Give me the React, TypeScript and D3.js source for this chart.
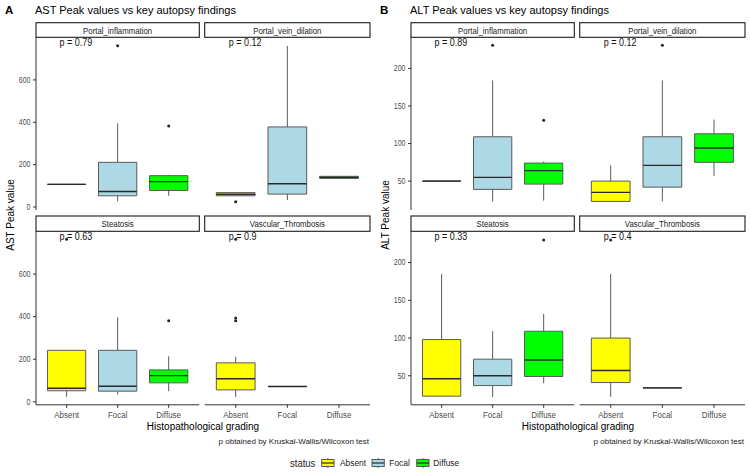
import React from "react";
import * as d3 from "d3";

type Stat = [number, number, number, number, number] | null; // lower whisker, q1, median, q3, upper whisker

const grades = ["Absent", "Focal", "Diffuse"];
const gradeColors = ["#FFFF00", "#ADD8E6", "#00FF00"];
const findings = ["Portal_inflammation", "Portal_vein_dilation", "Steatosis", "Vascular_Thrombosis"];

const astPValues = ["0.79", "0.12", "0.63", "0.9"];
const altPValues = ["0.89", "0.12", "0.33", "0.4"];

const astTicks = [0, 200, 400, 600];
const altTicks = [50, 100, 150, 200];

// AST box stats per finding, per grade
const astPortalInflammation: Stat[] = [[107, 107, 107, 107, 107], [27, 53, 73, 211, 395], [53, 78, 120, 148, 152]];
const astPortalVein: Stat[] = [[53, 53, 60, 68, 68], [33, 61, 110, 378, 760], [135, 135, 140, 145, 145]];
const astSteatosis: Stat[] = [[23, 52, 64, 242, 242], [34, 50, 73, 242, 397], [50, 89, 123, 150, 214]];
const astVascular: Stat[] = [[23, 56, 108, 183, 212], [72, 72, 72, 72, 72], null];

const astOutPortalInflammation = [[], [761], [382]];
const astOutPortalVein = [[25], [], []];
const astOutSteatosis = [[764], [], [381]];
const astOutVascular = [[381, 394, 764], [], []];

// ALT box stats per finding, per grade
const altPortalInflammation: Stat[] = [[50, 50, 50, 50, 50], [23, 39, 55, 109, 184], [24, 46, 64, 74, 76]];
const altPortalVein: Stat[] = [[23, 23, 35, 50, 71], [23, 42, 71, 109, 184], [57, 75, 94, 113, 132]];
const altSteatosis: Stat[] = [[23, 23, 46, 98, 185], [22, 37, 50, 72, 109], [40, 49, 71, 109, 132]];
const altVascular: Stat[] = [[22, 41, 57, 100, 185], [34, 34, 34, 34, 34], null];

const altOutPortalInflammation = [[], [231], [131]];
const altOutPortalVein = [[], [231], []];
const altOutSteatosis = [[], [], [230]];
const altOutVascular = [[230], [], []];

const FONT = '"Liberation Sans", Arial, Helvetica, sans-serif';

const colsX = [[36, 199.3], [204.7, 370]];
const stripY = [[22.7, 37.3], [216, 231.3]];
const panelY = [[37.3, 210], [231.3, 404.8]];

function CText(props: { x: number; y: number; sx?: number; size: number; anchor?: string; fill?: string; children: any; weight?: string }) {
  const { x, y, sx = 1, size, anchor = "start", fill = "#000", children, weight } = props;
  return (
    <text
      transform={`translate(${x},${y}) scale(${sx},1)`}
      textAnchor={anchor}
      dominantBaseline="central"
      fontSize={size}
      fill={fill}
      fontFamily={FONT}
      fontWeight={weight}
    >
      {children}
    </text>
  );
}

function Chart(props: {
  ox: number;
  letter: string;
  title: string;
  yTitle: string;
  stats: Stat[][];
  outliers: number[][][];
  pvals: string[];
  ticks: number[];
}) {
  const { ox, letter, title, yTitle, stats, outliers, pvals, ticks } = props;
  const all: number[] = [];
  stats.forEach((s) => s.forEach((b) => b && all.push(...b)));
  outliers.forEach((o) => o.forEach((g) => all.push(...g)));
  const lo0 = d3.min(all) as number;
  const hi0 = d3.max(all) as number;
  const pad = (hi0 - lo0) * 0.05;
  const domain = [lo0 - pad, hi0 + pad];
  const outline = "#5a5a5a";
  const medianC = "#2a2a2a";

  return (
    <g>
      <CText x={ox + 5} y={10} size={11.5} weight="bold">{letter}</CText>
      <CText x={ox + 35} y={10} size={11}>{title}</CText>
      <text
        transform={`translate(${ox + 10},${215}) rotate(-90)`}
        textAnchor="middle"
        dominantBaseline="central"
        fontSize={10}
        fontFamily={FONT}
      >
        {yTitle}
      </text>
      <CText x={ox + 203} y={426} size={10} anchor="middle">Histopathological grading</CText>
      <CText x={ox + 369} y={441} size={8} anchor="end" fill="#222">p obtained by Kruskal-Wallis/Wilcoxon test</CText>
      {findings.map((f, i) => {
        const col = i % 2;
        const row = Math.floor(i / 2);
        const [x0r, x1r] = colsX[col];
        const x0 = ox + x0r;
        const x1 = ox + x1r;
        const [st, sb] = stripY[row];
        const [pt, pb] = panelY[row];
        const y = d3.scaleLinear().domain(domain).range([pb, pt]);
        const x = d3.scalePoint<string>().domain(grades).range([x0, x1]).padding(0.6);
        const bw = x.step() * 0.75;
        return (
          <g key={f}>
            <rect x={x0} y={st} width={x1 - x0} height={sb - st} fill="#fff" stroke="#1a1a1a" strokeWidth={1.1} />
            <CText x={(x0 + x1) / 2} y={(st + sb) / 2 + 0.3} size={9} sx={0.87} anchor="middle" fill="#1a1a1a">{f}</CText>
            {grades.map((g, gi) => {
              const s = stats[i][gi];
              const cx = x(g) as number;
              const outs = outliers[i][gi];
              return (
                <g key={g}>
                  {s && (
                    <g>
                      <line x1={cx} x2={cx} y1={y(s[0])} y2={y(s[1])} stroke={outline} strokeWidth={1} />
                      <line x1={cx} x2={cx} y1={y(s[3])} y2={y(s[4])} stroke={outline} strokeWidth={1} />
                      <path
                        d={`M${cx - bw / 2},${y(s[3])}H${cx + bw / 2}V${y(s[1])}H${cx - bw / 2}Z`}
                        fill={gradeColors[gi]}
                        stroke={outline}
                        strokeWidth={1}
                      />
                      <line x1={cx - bw / 2} x2={cx + bw / 2} y1={y(s[2])} y2={y(s[2])} stroke={medianC} strokeWidth={1.4} />
                    </g>
                  )}
                  {outs.map((v, k) => (
                    <circle key={k} cx={cx} cy={y(v)} r={1.5} fill="#222" />
                  ))}
                </g>
              );
            })}
            <CText x={(x(grades[0]) as number) - 7} y={pt + 5} size={10} sx={0.9} fill="#111">{`p = ${pvals[i]}`}</CText>
            {col === 0 && (
              <g>
                <line x1={x0} x2={x0} y1={pt} y2={pb} stroke="#333" strokeWidth={1} />
                {ticks.map((t) => (
                  <g key={t}>
                    <line x1={x0 - 3} x2={x0} y1={y(t)} y2={y(t)} stroke="#333" strokeWidth={1} />
                    <CText x={x0 - 5.5} y={y(t)} size={9} sx={0.78} anchor="end" fill="#4d4d4d">{t}</CText>
                  </g>
                ))}
              </g>
            )}
            {row === 1 && (
              <g>
                <line x1={x0} x2={x1} y1={pb} y2={pb} stroke="#333" strokeWidth={1} />
                {grades.map((g) => (
                  <g key={g}>
                    <line x1={x(g) as number} x2={x(g) as number} y1={pb} y2={pb + 3} stroke="#333" strokeWidth={1} />
                    <CText x={x(g) as number} y={414.7} size={9.5} sx={0.84} anchor="middle" fill="#4d4d4d">{g}</CText>
                  </g>
                ))}
              </g>
            )}
          </g>
        );
      })}
    </g>
  );
}

function Legend() {
  const keyX = [321.7, 372, 416.7];
  const labelX = [340, 389.3, 433.3];
  const cy = 463;
  return (
    <g>
      <CText x={290} y={cy} size={10} sx={0.95} fill="#222">status</CText>
      {grades.map((g, i) => {
        const kx = keyX[i];
        const kw = 12.3;
        const cx = kx + kw / 2;
        return (
          <g key={g}>
            <line x1={cx} x2={cx} y1={cy - 5} y2={cy + 5} stroke="#5a5a5a" strokeWidth={1} />
            <rect x={kx} y={cy - 3.5} width={kw} height={7} fill={gradeColors[i]} stroke="#5a5a5a" strokeWidth={1} />
            <line x1={kx} x2={kx + kw} y1={cy} y2={cy} stroke="#2a2a2a" strokeWidth={1.2} />
            <CText x={labelX[i]} y={cy} size={8.4} fill="#222">{g}</CText>
          </g>
        );
      })}
    </g>
  );
}

export default function App() {
  return (
    <svg width={750} height={475} style={{ position: "absolute", left: 0, top: 0, background: "#fff" }}>
      <rect x={0} y={0} width={750} height={475} fill="#fff" />
      <Chart
        ox={0}
        letter="A"
        title="AST Peak values vs key autopsy findings"
        yTitle="AST Peak value"
        stats={[astPortalInflammation, astPortalVein, astSteatosis, astVascular]}
        outliers={[astOutPortalInflammation, astOutPortalVein, astOutSteatosis, astOutVascular]}
        pvals={astPValues}
        ticks={astTicks}
      />
      <Chart
        ox={375}
        letter="B"
        title="ALT Peak values vs key autopsy findings"
        yTitle="ALT Peak value"
        stats={[altPortalInflammation, altPortalVein, altSteatosis, altVascular]}
        outliers={[altOutPortalInflammation, altOutPortalVein, altOutSteatosis, altOutVascular]}
        pvals={altPValues}
        ticks={altTicks}
      />
      <Legend />
    </svg>
  );
}
